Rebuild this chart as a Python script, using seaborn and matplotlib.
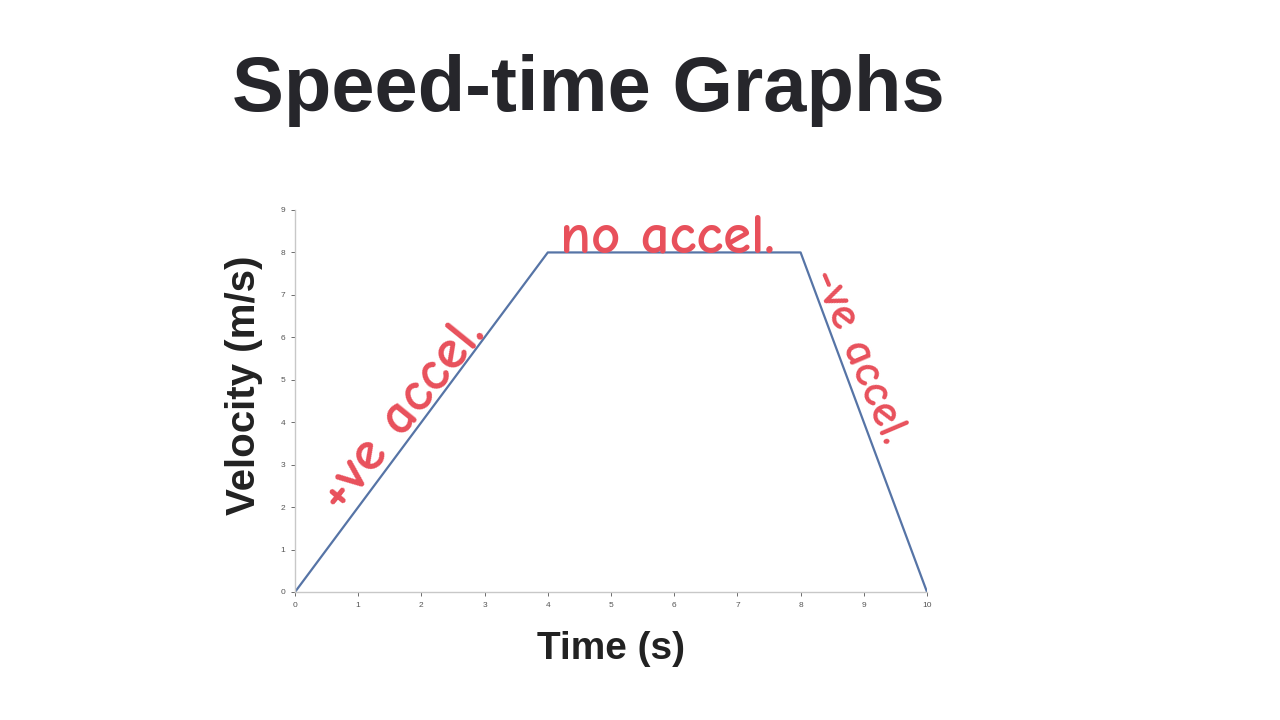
import numpy as np
import seaborn as sns
import matplotlib
matplotlib.use("Agg")
import matplotlib.pyplot as plt
import pandas as pd

time_s = [0, 4, 8, 10]
velocity = [0, 8, 8, 0]
x_ticks = list(range(0, 11))
y_ticks = list(range(0, 10))

title_text = "Speed-time Graphs"
x_label = "Time (s)"
y_label = "Velocity (m/s)"
notes = ["+ve accel.", "no accel.", "-ve accel."]

sns.set_style("white")
plt.rcParams['font.family'] = ['Liberation Sans', 'DejaVu Sans']

df = pd.DataFrame({'t': time_s, 'v': velocity})

fig = plt.figure(figsize=(12.8, 7.2), dpi=100)
ax = fig.add_axes([295 / 1280, 128 / 720, 632 / 1280, 382 / 720])

sns.lineplot(data=df, x='t', y='v', ax=ax, color='#5674a6', linewidth=1.6)

ax.set_xlim(0, 10)
ax.set_ylim(0, 9)
ax.set_xticks(x_ticks)
ax.set_yticks(y_ticks)
ax.tick_params(axis='both', labelsize=6, colors='#555555', length=3, width=0.6,
               direction='out', bottom=True, left=True, pad=4)
for side in ['top', 'right']:
    ax.spines[side].set_visible(False)
for side in ['left', 'bottom']:
    ax.spines[side].set_color('#c8c8c8')
    ax.spines[side].set_linewidth(1.0)

ax.set_xlabel(x_label, fontsize=28, fontweight='bold', color='#222222', labelpad=16)
ax.set_ylabel(y_label, fontsize=29, fontweight='bold', color='#222222', labelpad=10)
ax.yaxis.set_label_coords(-0.05, 0.54)

fig.text(232 / 1280, 1 - 111 / 720, title_text, fontsize=56, fontweight='bold',
         color='#26262b', ha='left', va='baseline')

# handwritten-style notes along each segment
red = '#e8505b'
hand = ['Comic Neue', 'Open Sans', 'DejaVu Sans']
ax.text(1.70, 4.17, notes[0], fontsize=41, color=red, rotation=51, ha='center', va='center',
        rotation_mode='anchor', family=hand, fontweight='bold')
ax.text(5.89, 8.0, notes[1], fontsize=41, color=red, ha='center', va='baseline',
        family=hand, fontweight='bold')
ax.text(8.92, 5.56, notes[2], fontsize=33, color=red, rotation=-67, ha='center', va='center',
        rotation_mode='anchor', family=hand, fontweight='bold')

fig.savefig('out.png', dpi=100)
